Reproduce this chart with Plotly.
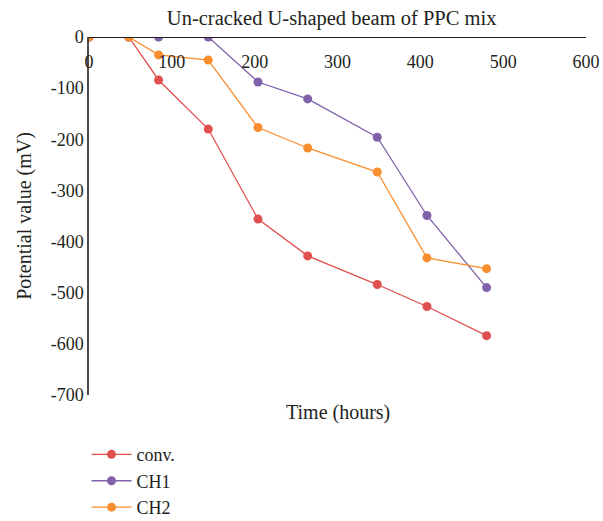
import plotly.graph_objects as go

time_hours = [0, 48, 84, 144, 204, 264, 348, 408, 480]
conv = [0, 0, -84, -180, -356, -428, -484, -527, -584]
ch1 = [0, 0, 0, 0, -88, -121, -196, -349, -490]
ch2 = [0, 0, -35, -45, -177, -217, -264, -432, -453]

x_ticks = [0, 100, 200, 300, 400, 500, 600]
y_ticks = [0, -100, -200, -300, -400, -500, -600, -700]
y_tick_text = ["0", "-100", "-200", "-300", "-400", "-500", "-600", "-700"]

series = [("conv.", conv, "#E0504F"), ("CH1", ch1, "#8062AA"), ("CH2", ch2, "#F88E2E")]

FONT = "Liberation Serif"
fig = go.Figure()
for name, vals, col in series:
    fig.add_trace(go.Scatter(x=time_hours, y=vals, name=name, mode="lines+markers",
                             line=dict(color=col, width=1.3),
                             marker=dict(color=col, size=9)))

fig.update_layout(
    width=603, height=521,
    margin=dict(l=89, r=17, t=37, b=126, autoexpand=False),
    paper_bgcolor="white", plot_bgcolor="white",
    font=dict(family=FONT, size=18, color="#231F20"),
    title=dict(text="Un-cracked U-shaped beam of PPC mix", x=0.55, xanchor="center",
               y=0.965, yanchor="middle", font=dict(size=20.5)),
    xaxis=dict(range=[0, 600], tickvals=x_ticks, side="bottom", anchor="free", position=1,
               ticks="outside", ticklen=8, tickcolor="rgba(0,0,0,0)",
               showgrid=False, zeroline=False, showline=True,
               linecolor="#231F20", linewidth=1.3),
    yaxis=dict(range=[-700, 0], tickvals=y_ticks, ticktext=y_tick_text,
               showgrid=False, zeroline=False,
               showline=True, linecolor="#4a4a4a", linewidth=1.5, ticks="",
               title=dict(text="Potential value (mV)", standoff=14, font=dict(size=20))),
    legend=dict(x=-0.005, y=-0.115, xanchor="left", yanchor="top",
                font=dict(size=18), tracegroupgap=0, itemwidth=40),
    showlegend=True,
)
fig.add_annotation(text="Time (hours)", x=0.5, y=-0.048, xref="paper", yref="paper",
                   xanchor="center", yanchor="middle", showarrow=False, font=dict(size=20))
fig.write_html("out.html")
